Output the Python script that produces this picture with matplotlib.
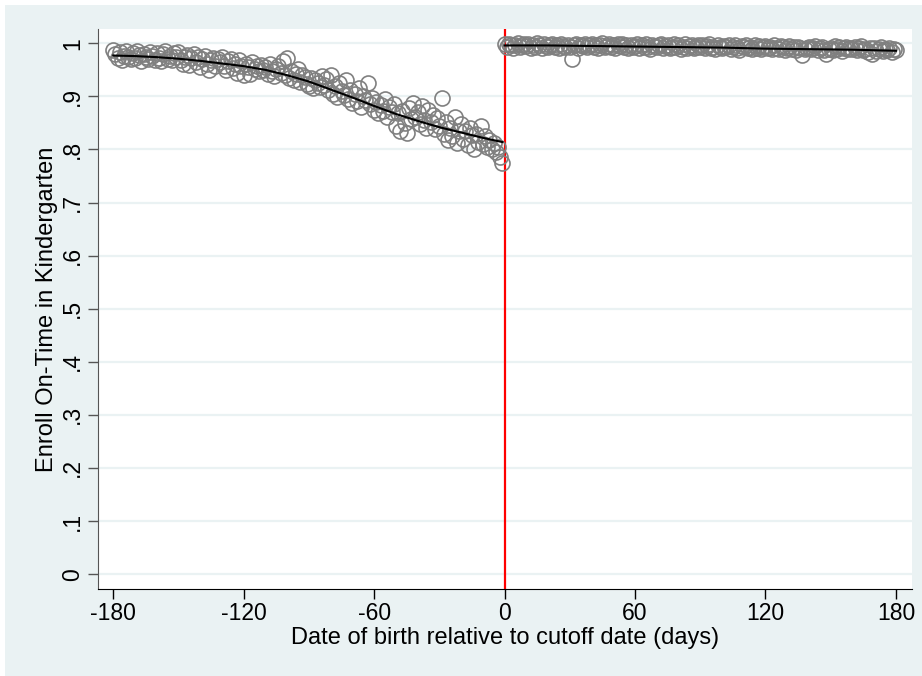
import matplotlib
matplotlib.use("Agg")
import matplotlib.pyplot as plt
from matplotlib.patches import Rectangle
import numpy as np

# days relative to cutoff
days_left = list(range(-180, 0))
days_right = list(range(0, 181))

# share enrolled on time, one value per day
enroll_left = [
    0.988, 0.979, 0.972, 0.983, 0.968, 0.976, 0.985, 0.974, 0.970, 0.981,
    0.973, 0.986, 0.978, 0.967, 0.980, 0.975, 0.971, 0.984, 0.977, 0.969,
    0.982, 0.973, 0.966, 0.979, 0.985, 0.970, 0.976, 0.968, 0.981, 0.974,
    0.983, 0.969, 0.962, 0.975, 0.978, 0.960, 0.972, 0.980, 0.965, 0.974,
    0.955, 0.970, 0.976, 0.962, 0.950, 0.968, 0.973, 0.958, 0.971, 0.964,
    0.975, 0.957, 0.949, 0.966, 0.970, 0.954, 0.961, 0.945, 0.968, 0.958,
    0.940, 0.962, 0.955, 0.943, 0.965, 0.951, 0.958, 0.947, 0.960, 0.949,
    0.955, 0.942, 0.961, 0.947, 0.938, 0.952, 0.957, 0.944, 0.966, 0.940,
    0.972, 0.935, 0.948, 0.930, 0.943, 0.952, 0.928, 0.941, 0.936, 0.924,
    0.920, 0.935, 0.915, 0.930, 0.926, 0.918, 0.938, 0.922, 0.933, 0.912,
    0.940, 0.905, 0.920, 0.898, 0.925, 0.910, 0.902, 0.930, 0.895, 0.912,
    0.888, 0.905, 0.892, 0.915, 0.880, 0.900, 0.893, 0.925, 0.885, 0.897,
    0.875, 0.890, 0.868, 0.883, 0.872, 0.895, 0.862, 0.880, 0.870, 0.885,
    0.845, 0.868, 0.835, 0.872, 0.850, 0.832, 0.878, 0.858, 0.888, 0.862,
    0.870, 0.848, 0.882, 0.855, 0.840, 0.875, 0.852, 0.865, 0.838, 0.860,
    0.845, 0.897, 0.830, 0.852, 0.818, 0.840, 0.825, 0.862, 0.812, 0.835,
    0.848, 0.820, 0.835, 0.808, 0.840, 0.828, 0.800, 0.830, 0.815, 0.845,
    0.810, 0.825, 0.805, 0.818, 0.800, 0.812, 0.795, 0.805, 0.785, 0.775,
]
enroll_right = [
    0.998, 0.994, 0.999, 0.996, 0.992, 0.997, 1.000, 0.993, 0.996, 0.998,
    0.995, 0.999, 0.992, 0.997, 0.994, 1.000, 0.996, 0.991, 0.998, 0.995,
    0.993, 0.997, 0.999, 0.994, 0.996, 0.991, 0.998, 0.995, 0.993, 0.997,
    0.994, 0.970, 0.996, 0.999, 0.992, 0.997, 0.995, 0.998, 0.993, 0.996,
    0.999, 0.994, 0.997, 0.992, 0.996, 1.000, 0.993, 0.995, 0.998, 0.994,
    0.996, 0.992, 0.998, 0.995, 0.999, 0.993, 0.996, 0.991, 0.997, 0.994,
    0.995, 0.998, 0.992, 0.996, 0.993, 0.999, 0.994, 0.990, 0.997, 0.995,
    0.993, 0.996, 0.999, 0.991, 0.995, 0.997, 0.992, 0.994, 0.998, 0.993,
    0.996, 0.990, 0.994, 0.998, 0.992, 0.995, 0.997, 0.991, 0.993, 0.996,
    0.994, 0.997, 0.991, 0.995, 0.999, 0.992, 0.994, 0.990, 0.996, 0.993,
    0.991, 0.995, 0.993, 0.997, 0.990, 0.994, 0.996, 0.992, 0.988, 0.995,
    0.993, 0.996, 0.991, 0.994, 0.989, 0.997, 0.992, 0.995, 0.990, 0.993,
    0.995, 0.991, 0.994, 0.989, 0.996, 0.992, 0.990, 0.995, 0.993, 0.988,
    0.992, 0.995, 0.990, 0.993, 0.987, 0.994, 0.991, 0.978, 0.989, 0.992,
    0.994, 0.989, 0.992, 0.995, 0.988, 0.991, 0.993, 0.987, 0.979, 0.990,
    0.992, 0.988, 0.995, 0.990, 0.993, 0.986, 0.991, 0.994, 0.989, 0.992,
    0.990, 0.993, 0.987, 0.991, 0.995, 0.988, 0.990, 0.984, 0.992, 0.980,
    0.991, 0.986, 0.989, 0.993, 0.985, 0.990, 0.988, 0.992, 0.984, 0.989,
    0.987,
]

# smoothed fit on each side
fit_days_left = [-180, -170, -160, -150, -140, -130, -120, -110, -100, -90,
                 -80, -70, -60, -50, -40, -30, -20, -10, -1]
fit_left = [0.977, 0.976, 0.974, 0.971, 0.967, 0.962, 0.957, 0.950, 0.940, 0.928,
            0.913, 0.898, 0.882, 0.867, 0.854, 0.842, 0.832, 0.822, 0.814]
fit_days_right = [0, 20, 40, 60, 80, 100, 120, 140, 160, 180]
fit_right = [0.996, 0.996, 0.995, 0.994, 0.993, 0.992, 0.990, 0.989, 0.988, 0.986]

xticks = [-180, -120, -60, 0, 60, 120, 180]
yticks = [0, .1, .2, .3, .4, .5, .6, .7, .8, .9, 1]
ytick_labels = ["0", ".1", ".2", ".3", ".4", ".5", ".6", ".7", ".8", ".9", "1"]

bg = "#eaf2f3"
plt.rcParams["font.family"] = ["Liberation Sans", "DejaVu Sans"]
plt.rcParams["axes.unicode_minus"] = False

fig = plt.figure(figsize=(9.22, 6.76), dpi=100)
fig.patch.set_facecolor("white")
fig.patches.append(Rectangle((5 / 922, 0), 1, 1 - 5 / 676, transform=fig.transFigure,
                             facecolor=bg, edgecolor="none", zorder=-10))

ax = fig.add_axes([98 / 922, 1 - 589 / 676, (912 - 98) / 922, (589 - 29) / 676])
ax.set_facecolor("white")

for y in yticks:
    ax.axhline(y, color=bg, lw=1.6, zorder=0)

ax.axvline(0, color="red", lw=1.6, zorder=1)

marker = dict(ls="none", marker="o", ms=10.8, mfc="none", mec="#808080", mew=1.2, zorder=2)
ax.plot(days_left, enroll_left, **marker)
ax.plot(days_right, enroll_right, **marker)

ax.plot(fit_days_left, fit_left, color="black", lw=1.5, zorder=3)
ax.plot(fit_days_right, fit_right, color="black", lw=1.5, zorder=3)

ax.set_xlim(-187, 187.4)
ax.set_ylim(-0.028, 1.027)

ax.set_xticks(xticks)
ax.set_yticks(yticks)
ax.set_yticklabels(ytick_labels, rotation=90, va="center")
ax.tick_params(axis="both", labelsize=16.5, length=7, width=1, colors="black")
ax.tick_params(axis="y", color="#555555", pad=3)
ax.tick_params(axis="x", pad=2)

for side in ["top", "right"]:
    ax.spines[side].set_visible(False)
ax.spines["left"].set_color("#555555")
ax.spines["bottom"].set_color("black")

ax.set_xlabel("Date of birth relative to cutoff date (days)", fontsize=17, labelpad=2)
ax.set_ylabel("Enroll On-Time in Kindergarten", fontsize=17, labelpad=2)

fig.savefig("out.png", dpi=100, facecolor=fig.get_facecolor())
